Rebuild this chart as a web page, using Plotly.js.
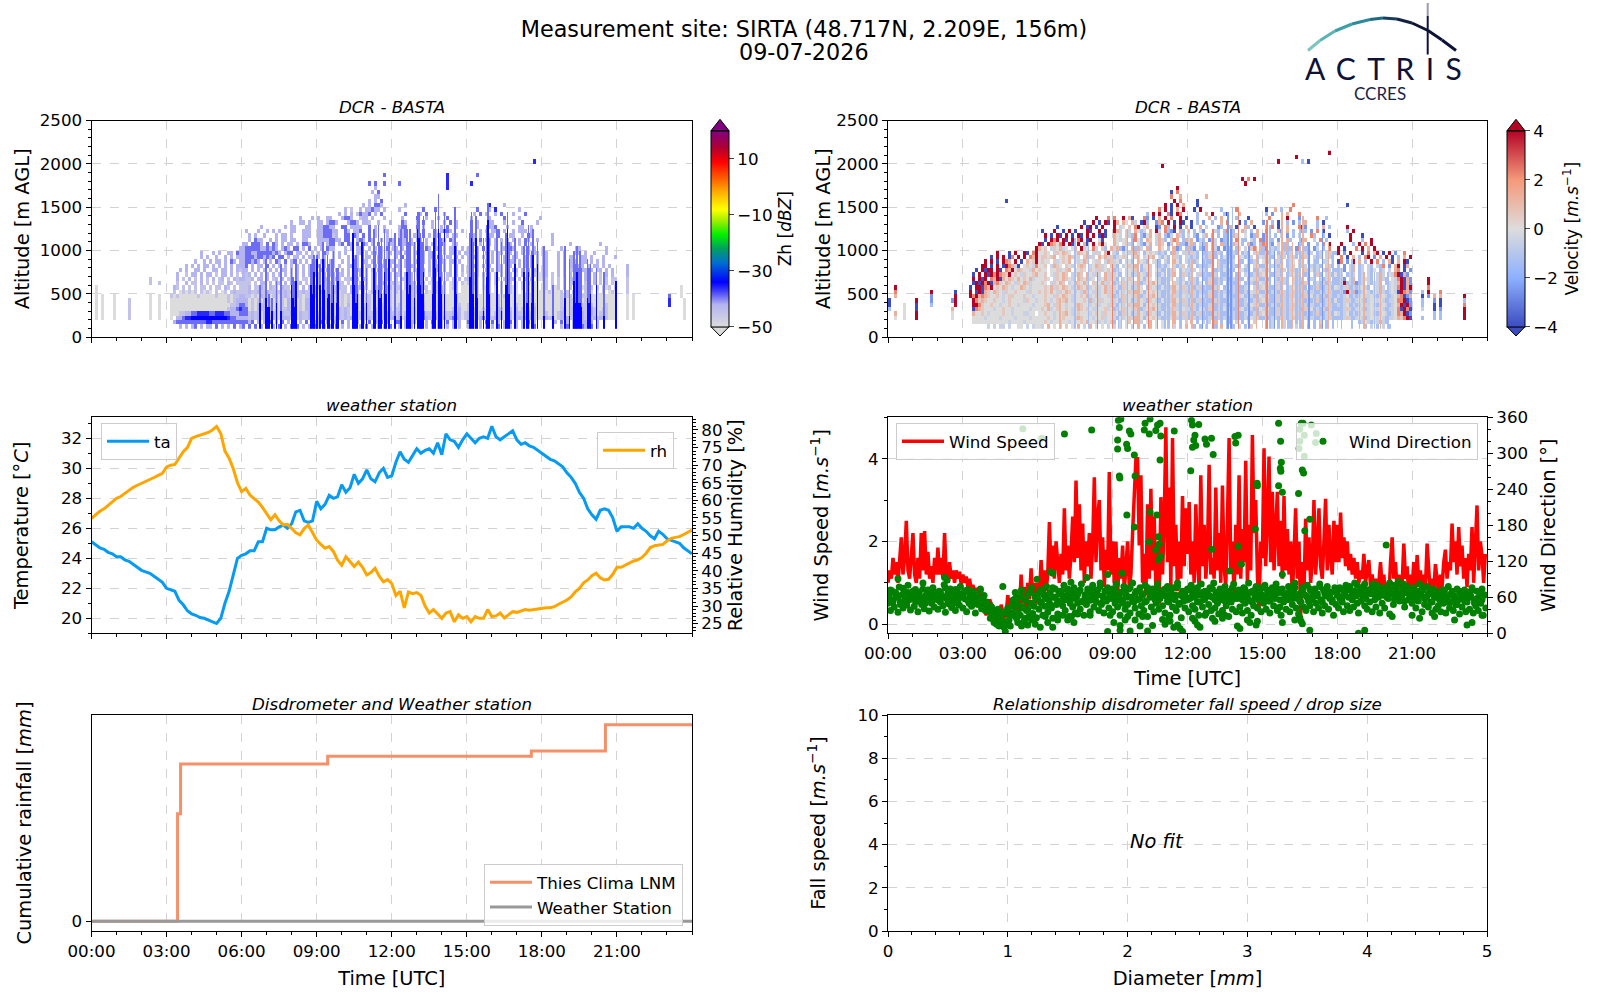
<!DOCTYPE html>
<html>
<head>
<meta charset="utf-8">
<title>SIRTA quicklook</title>
<script src="https://cdn.plot.ly/plotly-3.0.1.min.js"></script>
<style>
    body { margin: 0; background: white; }
    #chart { width: 1600px; height: 1000px; }
</style>
</head>
<body>
<div id="chart"></div>
<script>
// Radar background grids: one string per altitude row, 25 cells per 3 hours, "-" = empty 3 hour block
const rowAltitudes = [2125,2075,2025,1975,1925,1875,1825,1775,1725,1675,1625,1575,1525,1475,1425,1375,1325,1275,1225,1175,1125,1075,1025,975,925,875,825,775,725,675,625,575,525,475,425,375,325,275,225,175,125];
const zhLevels = { "1": -50, "2": -45, "3": -42, "4": -39, "5": -36, "6": -34 };
const zhRows = [
    "",
    "",
    "- - - - - ......................5",
    "",
    "",
    "- - - ......................4 ..................5 ...4",
    "- - - - ..................5",
    "- - - .................4.4..4 ..4...............5 .5",
    "- - - ...................3 ..................5",
    "- - - ..................3.4",
    "- - - ...................33",
    "- - - .................3.3.4",
    "- - - ...............3.3.443 ....3 .......5....3",
    "- - - .........3.2..3.33433.3 ..3.......4...4 ...4...3.5.......3",
    "- - - .......3.3.3.24334.3.4 ....4....3.4.....3...... ..3.4.3..3.4...3...4..",
    "- - ...................3...3 3..33...3443..233.3...3.. ...3....4..3...3..4...... .3.....3....4....3......3",
    "- - ................3..33.3 33.3443...3443.332..3...3 ...43...3.4..3...3.4.3... .4.3...33...3..3..4....3.",
    "- - ......3.......3.33...33 334433..44.3333..4.3..3.. ..344...4.3..3..3.4..3.. .4.3...334...3...33..3...",
    "- - .3...3..3.3.3...33..333 3344433..43.334..4.3..33. ..334...3.4...3.3443...3 .4..3.2.334.3..3.333.3...",
    "- - ..3.3..3...3.33.3...333 3344423..44.43.4.4.3...3. ..334..33.4.3.33..3.33.. .43.3..33.4...33..3.43... ...3",
    "- - ..3.433..3.3.33.33..33. 33334433.44..343.43..3.34 3.433.3.33.3..3.33.43.. .43.4.33.3.3.3.3.3.43..3 ...3",
    "- - 33.4443.4.43.3.33.3.443 33.344.34.43.4.43.3.4..33 3.433.33.3.3.33.43..33.. .43.3..3.3.3.33..3.4.3.. ...3.....3.........3",
    "- ........................3 344444334343.343.44.3.4.3 .3.433...3.3.33..3.3.3.4 33.3...3.3.43.33.3.33..3. 33.3.4...3.33.43..3.3.3.. 3.....3....33........3",
    "- ...........3...3.3..33.43 3443344444343.344.33.3.3. 3.43.3.3.3...33.3.33.3.33 .33.3..33.3.33...3.33.3.3 33.3..3.3.33.33.3.3.3.33. 33...3.3...33.3..3...3...",
    "- ...........3.3..3..3.3.33 34443443434.44.3.33.3.33. 3.3..3.3..3.33..33..33.3. .3.4.3.3..3.33.43.33.3.3. 3.33.3..3.3.33.33..3.3.3. 33...3.3.33..33.3...3...3",
    "- .........3..3.3.33.3.43.3 344343.3.3.43.4.34.3.3.33 .33.33..3.3..3.33.3.3.3.3 3.3.3..33.3.3.3.33.33.3.. 33.3..3.3.3.3.33.3.3.3.3. 33...3.3.333.33.3.3.3....",
    "- ......3.3.3.33.3.3.3.3.33 34.3.33.4.3.3.3.3.3.3.3.3 3.3.33.3..33.3..33.3.33.3 .33.3.33.3..3.33.3.3.3.3. 3.33.3.3..33.33..3.3.3.3. 33...3.3.33.33.3.33.3.3. ...3",
    "- ....3.3..33.3..33.33.3.32 33.3.3.3.3.3.33.3.3.3.3.3 .3.33.3.3.3..33.3.3.33.3. 3.3..3.33.3.3.33.3.3.3.3. 33.3..3.3.33.3.33.3.3.33. 33...3.3.233.33.3.23.3.3. ...3",
    "- ...3..2.33.3.33.2.33.3.2. 323.3.3.3.3.3.3.3.3.3.3.2 2.3.33.23.3.2.3.3.23.3.23 .32.3.3.3.3.2.3.3.23.3.2. 3.32.3.3.2.3.33.2.3.3.221 33.2.3.3.3.21.33.3.2.3.3. ...3",
    "...................2 ...3.2.3.2.3.2.3.23.2.323 3223.33.3.23.3.23.3.22.3. 2.33.232.223.2.33.22.3.23 .2.22.3.23.2.21.3.2.2.3.2 3.21.2.3.21.2.33.2.2.2.21 22.2.2.2.3321.33.3.2.2.22 ...2",
    "...................2..2 ...2..3.22.3.2.2.22.32.22 222.2.33.3.32.3.3.23.2.3. 2.3223.22.2.3.2.3.22.33.2 221.2.33.22.1122.3.123.21 2231.2.2.2.2.22.1.2.2.11. 12.2.2.2.2321.22.3.2.2.21 ...2",
    ".1 ..32.2.2.2.22.2.22.32.2.2 223.2232.322.322.32.3.323 2.23223222.322322.2322.33 122.22322322.12222.122.11 1221.212.1.2.2211.2.1.11. 12.212.2.2.311222.2.212.2. ...2.................1",
    ".1 ..2.121212.2121.2.12.2322 2232232232232232232232232 1222232122.322.2.1322.222 1211122222.2112232.112.11 1211.112.1.2.1211.1.1.111 1121112.2.211.221.1.2.121 ...2.................1",
    ".1.1...1...........1..1 .212111111211111211121223 3221213221231232132212213 1122321121211211221121212 1111112212211112211112111 1211111211212111111111111 1111112122111221111111111 ...1.1...........4...1",
    ".1.1...1....2......1..1 .111111111111111111121233 3312121322131213221213321 1122321121211211221121212 1111112212211112211112111 1211111211211211111111111 1111112112211121111111111 ...1.1...........5....1",
    ".1.1...1....2......1..1 .111111111111111111112234 4312132312131213221213321 1122321121311212221122212 1121112212311112311111211 2211111211211211211111211 1111112112211221211112111 ...1.1...........5....1",
    ".1.1...1....2......1..1 .111111111111111111123345 4412132312131223221213321 1222321223211213221222313 1221112312311112311121311 2221121311321321312121311 1111112212311221321122111 ...1.1................1",
    ".1.1...1....2......1..1 .111223344555544555443334 4423231322231322321322331 2232321223211223222323233 2231222312422222322232312 3321231312331331322232311 1211123212321322321222111 ...1.1................1",
    ".1.1...1....2......1..1 .1.3345566666666666654433 3323231333231333221322331 3233323223231223232323233 3231332312432332332343312 3321341323331331333333311 2322123232322322232332111 ...1.1................1",
    "- ..34444444444554444444444 4434.3.3.4.3.4.3.4.3.4.43 34.3.33.4.3.43.3.4.334.3. .44.3.33.3.3.4.33.4.3.3.. 4.3.3.4.4.3.3.4.3.3.4.3.. ....3.4.3.33.33.3.3......",
    "- ....3.3.34.3.33.4.3.3.4.3 4.4.4.3.3.3.4.3.4.4.3.3.4 3.3.3.4.3.3.3.3.4.3.3.3.4 ..3.3.3..4.3.3.33.3.3.3.. 3.3.3.3.3.4.3.3.3.3.3.4.. ......3.4.33.43.4.3......"
];

// Narrow reflectivity streaks: time, top of echo, top of the saturated part
const zhStreakHours = [6.74,6.94,7.03,7.1,7.2,7.38,7.54,8.0,8.05,8.1,8.18,8.74,8.8,8.85,9.0,9.1,9.25,9.3,9.41,9.5,9.6,9.67,9.75,9.85,10.45,10.5,10.54,10.6,10.77,10.85,10.87,10.95,11.25,11.3,11.35,11.43,11.5,11.6,11.67,11.75,11.9,12.1,12.34,12.58,12.65,12.7,12.74,12.9,13.0,13.05,13.1,13.15,13.2,13.27,13.6,13.67,13.73,13.75,13.83,13.9,14.0,14.07,14.12,14.5,14.54,14.6,15.1,15.17,15.25,15.34,15.4,15.67,15.78,15.83,15.9,16.2,16.4,16.55,16.63,16.7,16.94,17.25,17.4,17.47,17.55,17.65,17.83,18.07,18.4,18.87,19.07,19.27,19.3,19.35,19.38,19.45,19.5,19.55,19.8,19.85,19.94,20.17,20.47,20.94];
const zhStreakTops = [595,920,345,500,450,650,845,805,700,650,885,845,900,960,940,860,1100,900,940,850,900,1000,800,805,1210,900,960,800,1135,950,1040,800,1100,1270,1000,1290,1050,1150,1230,900,1080,1210,1230,1230,1100,1000,1230,1100,1445,1300,1425,1200,1100,1385,1000,1270,1500,1250,1655,1200,1150,1425,1100,1250,1480,1050,1200,1425,1100,1385,1050,1155,1300,1550,1150,1230,1080,1200,1445,1100,1170,1060,1050,1290,1000,1270,1115,1040,620,1060,920,980,850,900,1040,800,1000,820,900,800,840,790,730,650];
const zhStreakCores = [380,460,345,340,300,380,305,575,450,350,650,610,500,770,920,600,885,550,460,500,380,575,400,650,1190,600,380,500,1100,500,650,400,600,805,550,530,450,500,770,500,920,250,250,770,500,400,575,450,1230,700,1155,600,500,770,500,1155,1230,800,1270,700,500,1230,500,800,1040,500,700,1155,500,1155,450,300,700,1350,500,770,300,600,1270,500,840,770,400,770,400,960,840,250,250,460,250,650,400,550,770,400,420,350,460,380,490,620,250,650];

const velLevels = { a: -4, b: -2.5, c: -1.3, d: -0.5, e: 0, f: 0.6, g: 1.3, h: 2.3, i: 4 };
const velRows = [
    "- - - - - ......................i",
    "- - - - - ...........i",
    "- - - - - .....i.......c.a",
    "- - - ................i",
    "",
    "",
    "- - - - ..................i.h.i",
    "- - - - ...................i",
    "- - - .....................i",
    "- - - ...................a.h",
    "- - - ...................h..g ......g",
    "- ..............a - ....................i.h ...a",
    "- - - .................i.a.i.g ...a ..........h ...a",
    "- - - ...............h.i.a.g.i ..a.i......c....h .a..g.c..h",
    "- - - ...........c.i.i..ha.ih. ...c..g.i...ca...g .c.b....g...h",
    "- - ...................i...h h..i.ga...hb.a.g.i.h..i.a ...c...g.c.g....c...a.... ..h.....i...b.....h..c",
    "- - ...............a..i.a.ia ig.ge.gd.aic..bgh.i.a.ia. .a.c.b..c..g.h...a.b.g... b..c.a..c.b.c.g...c.a...",
    "- - ......a.......i.ai.a.i. i.de.f.hi.eg..ab.hc.i.a.g .a..g.d...bc..g.a..gc.a.. .g.h.a..g...hab...c.g.c. ...i",
    "- - .a...i..a.i.a...ia..i.a igd.fd.gecd.g.id.hcba.gc. g.c.db...dc.ch.c..gd.c.g. .h...gb.g.c..hc.b.h.a... ...c.i",
    "- - ..i.a.ia.i.a.ia.i.i.aia ged.fdch.cbeg.dg.cbd.gdc. d.cb.dg.g.c.cc.gd..e.bcg. bg..c.d.b.c.d...hc..c.a.. ....i...a",
    "- - ..a.ihi.ia.i.hi.ai..ea. gedef.chec.gf.dgfc.dhg.cg dg.bdc.bgd.bcc..h.cc.dc.h bg.c.b..gc...bg..d.h.c.. ....i...c..i",
    "- - ia.ihgehi.ia.i.ga.i.gie ge.efdc.ecbeg.dgf.bd.gccb dgc.dcg.gd.gcb.gd.c.gbc.c hg.b.f.cg...bg.b..c.h.i. .i...c.i.h.i",
    "- ........................i gef.dfegde.eg.ide.hd.fc.g dgcbd.gcgd.gc..ge.c.gbc.c gcb.cbg.gdb.bdg.ce.d.fh.g cb.dcd.cgc.bh.cg.bd.c.h. i.a...h.i.g.i..",
    "- ...........i...a.i..ia.hi eefe.dfegfe.egfeg.dfd.gi. dc.dedfgd.cefedcdc.cgd.df cfdc.ccdfcfc.dcdc.cdc.dfc cfcd.cfdcd.cdfdcd.cd.dfdc i.b.i...a.h.gi.a.i.b..h..",
    "- .........a.i.i.ah.i.i.hgi effefg.efegfed.fgfd.gegdf cdefd.dfd.dedg.dcec.fdc.d dcdc.dcfdc.cecdc.decfd.ce dcec.fcd.fdc.cfd.dcf.ddc .h.a.g.c.hi.b.g.i.a.c.g.i",
    "- .......i.i.a.ihg.i.a.gefi efee.fdefeg.edegf.edf.dgf dec.dec.fedc.edc.dc.gec.d cdcd.cdcc.fcc.ed.cc.ecdc. ecd.fdc.cde.fd.d.fc.dd.e ah.b.i.g.c.i.h.c.ga.g.ia.",
    "- ......ii.a.i.aihgda.efedh eef.dgfe.fed.fgf.degfde.f dc.defdg.ceef.dcdce.dcdf cf.cdccdf.fcdd.dcc.dc.dfc cf.ddcf.cdf.dfd.dcdc.fdc c.b.dg.cd.dc.dch.b.gi.ag.",
    "- ....a.iaii.ia.hgiegfeedge fee.eefdefg.eefe.fedfdefe cde.dedf.cded.edc.cdf.ced dcd.edc.dcdce.dc.decf.cce dce.dfcd.fdcd.fdecd.fcd.c cdb.dg.cd.dce.cd.d.gh.a.b",
    "- ...a.i.iaihihgfiefedfeefg eef.edfegf.degf.gedfd.gdf dec.decd.edcf.dce.cdg.cfd cd.dfcdccd.ccde.cc.decdcf ec.cfdc.cdecf.cd.dfc.ddce cd.cdf.cd.dc.dcd.edhiagb",
    "- ...i.iai.hgiagegfegefegde eefe.dfegfed.gfegde.degdf dc.defd.decee.edcdce.dcd. cfdc.ccdfcfcd.cdccc.cedfc cfc.dcfdc.fcdf.cdd.dcdf.c cdb.dg.cdedc.dcdc.edhiagb .....i",
    "- ...aiaihiaghfegfedfegfdee efe.dfegf.degfegd.fdegdfe cdefdedf.cdedgedcec.fdcec dcdce.cfdcdc.cdccd.cfdcce dce.dfcdc.dcdcfd.cdcfcddc cdicdgbcd.dcedc.cdedgiagb .....i",
    "..i ..a.iiahgiefegfedeegfedee eefegdfegfedegfegdefdegdf decfdecdfe.cfedcedcdgecfd cdcdfcdccdf.cdedcccde.dcf ecdcfdc.cdecfdc.cdfccddce dcdfcdcdedc.edcd.dedhiagi .....h",
    "..h...........i.......a ..i.aiagfegfedfeefeeedfee fefegedfegfededgfedfdegdf dcedefdgdeceefedcdcegdcdf cfdcdccdfcfcddcdcccdcedfc cfcddcfdcdfcdfdcddcdcdfdc cdbidgbcdedcedcdcdedaihgb ...c.i...h",
    "..g...........b.......i ..ihighgfeefedeffeeefeede eefeedfegfedeefegdefdeedf cdefdedfdcdedgedcecdfdced dcdcedcfdcdcecdccdecfdcce dcecdfcdcfdcdcfdecdcfcddc dcdecdcdeddedcdedcdeghabg ...a.b.g.g.......i",
    "a........i....b......bi ...ihfgfeefeedefeeeedfeed eefedefefgedeeefegdefdeed decfdecdfedcfedcedcdgecfd cdcdfcdccdfccdedcccdecdcf ecdcfdcdcdecfdcdcdfccddce ccdfdcdedcdeededcddehhiab ...c...b.a.......c",
    "a....e...a....c.......i ...iihfeefeedeefeedeeeede eefgedfeedeefgfeedefdeedf dcedefdgdeceefedcdcegdcdf cfdcdccdfcfcddcdcccdcedfc cfcddcfdcdfcdfdcddcdcdfdc dcdecdcdeddedcdedcdegiaib ...c...a.a.......h",
    "c....e...a...........g ...ahgfeeedeefeedeeeeedee efegdefeefedegfefeddeefde cdefdedfdcdedgedcecdfdced dcdcedcfdcdcecdccdecfdcce dcecdfcdcfdcdcfdecdcfcddc ccdfdcdedcdeededcddehaiha ...d...a.b.......i",
    "..g..e...i...........e ...geefedeeeefeedeeeddee eefeedeefgedefeeedefedfee decfdecdfedcfedcedcdgecfd cdcdfcdccdfccdedcccdecdcf ecdcfdcdcdecfdcdcdfccddce dcdecdcdeddedcdedcdehgiab .......c.c.......i",
    "..e..e...i...........e ...eeeedeeeedeeeedeeeedee eeefedeefeeefgfeeedeefdee dcedefdgdeceefedcdcegdcdf cfdcdccdfcfcddcdcccdcedfc cfcddcfdcdfcdfdcddcdcdfdc ccdfdcdedcdeededcddegfhia ...c...c.c.......i",
    "- ...eeeeeeeeeeeedeeeedeeee eefedeefeedeeefegeefdedef c.d.ef.g.d.eg.e.e.c.g.c.f .g.c.d.d.g.c.dc.d.c.e.f.. .g.d.c.d.c.c.g.d.c.f.c.. .......cdedcedcdc........",
    "- ........d.d.dd.d..ee.d.de ed.g.e.f.f.e.g.d.g.e.e.d. d.d.e.d.d.c.g.e.e.c.d.c.g ..c.c.d..c.g.d.c.d.c.f.. .g.d.c.d.c.d.g.c.c.g.c.. .........c.d.c.d.c......."
];

// Velocity streaks: time, top of echo, velocity
const velStreakHours = [6.88,9.0,9.61,9.81,10.41,10.81,11.41,12.15,13.01,13.21,9.35,10.01,7.48,8.01,8.41,9.21,10.08,11.08,11.75,12.61,12.75,13.75,13.55,13.61,14.01,14.75,15.15,15.75,16.21,16.61,17.61,17.28,19.08,19.75,13.61,13.78,14.48,15.28,15.48,16.01,16.48,16.88,17.08,17.41,17.81,18.15,18.61,18.88,19.48,20.01];
const velStreakTops = [460,845,1230,1155,960,920,1155,920,1230,960,770,960,1155,1077,770,845,770,800,800,1077,960,1230,1077,1425,1500,1040,1350,1445,1115,1385,1077,850,770,730,1425,1500,1040,1310,1000,1077,1270,1077,920,1230,1000,800,920,730,730,730];
const velStreakValues = [1.3,2.3,1.8,2.3,2.3,2.3,1.3,1.3,2.3,1.3,1.3,1.3,-1.3,-1.3,-2.5,-1.3,-1.3,-1.3,-1.3,-2.5,-1.3,-2.5,-1.3,1.8,2.3,1.3,2.3,1.3,1.3,1.3,1.3,1.3,1.3,1.3,-2.5,-1.3,-2.5,-1.3,-2.5,-1.3,-1.3,-2.5,-1.3,-2.5,-1.3,-1.3,-1.3,-1.3,-1.3,-1.3];

// Weather station, ten minute readings
const temperature = [
    25.1,24.9,24.7,24.6,24.4,24.3, 24.1,24.1,23.9,23.8,23.6,23.4, 23.2,23.1,23.0,22.8,22.6,22.4,
    22.0,21.9,21.8,21.2,20.9,20.5, 20.3,20.2,20.05,20.0,19.9,19.8, 19.65,20.0,21.0,21.8,23.0,24.0,
    24.2,24.3,24.5,24.5,25.1,25.1, 26.0,25.9,25.9,26.1,26.2,26.0, 26.3,27.1,27.2,26.5,26.4,26.5,
    27.8,27.3,27.6,28.2,28.0,28.1, 28.9,28.4,28.7,29.6,29.0,29.3, 29.9,29.3,29.1,29.7,30.0,29.4,
    29.5,30.4,31.1,30.6,30.4,30.9, 31.3,31.0,31.2,31.3,31.0,31.7, 30.9,32.3,31.9,31.8,31.4,31.9,
    32.3,32.0,31.7,32.0,32.1,32.0, 32.8,32.1,31.9,32.1,32.3,32.5, 31.9,31.6,31.7,31.5,31.4,31.2,
    31.0,30.8,30.6,30.5,30.3,30.1, 29.7,29.4,29.0,28.4,28.0,27.3, 26.9,26.6,27.2,27.3,27.2,26.7,
    25.8,26.1,26.1,26.1,26.0,26.3, 26.0,25.8,25.5,25.3,25.8,25.6, 25.3,25.2,25.1,25.0,24.7,24.5, 24.3
];
const humidity = [
    54.9,55.9,56.9,57.6,58.5,59.6, 60.6,61.1,62.0,62.9,63.7,64.3, 64.8,65.4,65.8,66.5,67.1,67.7,
    69.5,70.0,70.2,72.0,73.8,75.0, 77.6,78.1,78.5,78.9,79.3,80.0, 81.0,79.0,74.0,72.0,69.0,65.0,
    62.5,63.4,61.5,60.5,59.5,58.0, 56.3,54.5,55.9,54.2,53.0,53.2, 52.0,50.8,50.2,52.0,53.0,51.0,
    48.7,47.5,46.4,46.9,45.5,43.0, 41.6,44.0,42.5,41.2,42.5,41.0, 38.8,39.5,40.7,38.5,36.9,37.5,
    36.4,33.0,34.2,29.5,34.0,33.5, 33.8,33.0,30.0,28.0,29.0,27.8, 26.5,28.0,28.4,25.5,27.5,26.5,
    27.0,25.5,27.0,26.5,26.5,29.0, 27.0,27.2,28.0,26.6,27.5,28.4, 28.2,28.5,29.0,28.8,29.0,29.2,
    29.3,29.5,29.5,29.8,30.5,31.0, 31.7,32.6,34.0,35.0,36.6,37.4, 38.6,39.3,38.0,37.4,37.6,39.0,
    41.0,41.0,41.6,42.0,42.8,43.1, 43.8,45.0,46.6,47.1,47.3,47.5, 48.5,49.2,49.5,49.7,50.3,51.0, 51.6
];

// Wind speed, four minute readings
const windSpeed = [
    1.0,1.3,1.1,1.6,1.2,1.5,1.0,1.7,2.1,1.2,1.6,2.5,1.3,1.1,1.8,
    2.2,1.2,1.0,1.6,1.1,2.2,1.3,2.25,1.2,1.75,1.1,1.4,1.0,1.6,1.2,
    1.85,1.2,1.6,1.1,2.2,1.2,1.0,1.5,1.1,1.3,1.0,1.3,1.1,1.27,0.95,
    1.2,1.0,1.15,0.9,1.1,0.85,0.95,0.8,0.87,0.7,0.75,0.55,0.45,0.3,0.22,
    0.3,0.6,0.5,0.3,0.15,0.06,0.1,0.2,0.47,0.3,0.15,0.25,0.7,0.4,0.2,
    0.3,0.15,0.5,0.2,0.3,1.2,0.5,0.9,0.4,1.0,0.6,1.35,0.7,1.0,0.5,
    1.0,0.7,1.55,0.9,1.3,0.8,1.2,2.47,1.3,1.9,1.1,2.0,1.4,1.0,1.7,
    1.2,2.8,1.3,1.9,1.1,1.7,2.6,1.5,3.47,1.6,2.9,1.3,2.43,1.0,2.0,
    1.4,2.2,1.1,1.9,3.55,1.5,2.6,3.0,1.3,2.1,0.9,1.8,1.3,3.68,1.2,
    2.0,1.0,2.0,0.7,1.6,1.1,1.9,0.8,1.4,2.0,0.9,1.2,2.2,3.0,4.0,
    4.0,1.9,3.6,1.0,1.7,0.7,2.9,1.1,3.27,1.3,2.6,0.8,1.9,0.5,3.07,
    1.2,2.5,4.76,1.5,3.3,0.9,4.5,1.4,2.4,0.8,2.0,1.1,3.1,1.4,2.8,
    1.7,2.95,1.2,2.0,1.0,2.9,1.5,0.9,3.6,1.4,2.4,1.1,1.8,3.85,1.2,
    1.6,1.1,3.3,1.3,2.2,1.0,3.35,1.4,0.9,2.5,4.5,1.3,2.0,0.6,2.4,
    1.2,3.6,1.1,2.3,1.5,3.95,1.0,2.4,1.3,4.57,2.2,3.0,1.2,0.3,2.0,
    1.6,4.25,1.4,2.6,4.05,1.5,3.2,1.3,2.2,3.2,1.4,2.5,1.1,3.1,1.3,
    2.3,1.2,2.0,0.6,1.8,2.8,1.1,2.0,0.2,1.5,0.7,2.55,1.3,2.1,1.0,
    1.5,3.0,1.2,1.9,2.8,1.4,1.1,2.0,3.03,1.3,2.4,1.6,1.2,2.5,1.5,
    2.4,1.5,2.7,1.6,2.1,1.4,2.0,1.3,1.7,1.2,1.6,1.1,1.5,1.0,1.3,
    1.1,1.7,1.0,1.3,1.55,0.9,1.2,0.8,1.1,0.7,1.0,1.5,0.9,1.2,0.6,
    1.0,0.6,1.5,2.1,1.1,1.5,0.8,1.2,0.7,1.0,1.95,1.1,1.4,0.6,1.2,
    0.9,1.5,0.8,1.67,1.0,1.3,0.7,1.2,0.9,1.95,1.2,0.7,1.1,0.8,1.45,
    1.0,0.7,1.2,0.9,1.5,1.8,1.1,1.5,1.3,2.43,1.5,2.0,1.2,2.35,1.4,
    1.9,1.1,1.6,0.9,1.7,1.3,2.35,1.0,1.8,2.87,1.3,2.0,1.67,1.0,1.7
];

// Wind direction: three minute readings, a second pass of the dense band, and the dots away from it
const windDirection = [
    50,62,38,71,55,44,68,60,35,77,52,64,42,70,58,47,80,56,39,66,
    61,45,73,53,36,69,58,48,84,41,63,55,72,37,60,50,76,44,66,57,
    40,70,52,63,46,81,35,59,67,49,74,43,56,65,38,71,54,47,78,60,
    42,68,57,36,73,50,62,45,70,55,34,66,48,59,72,41,53,63,38,52,
    46,36,25,44,30,18,38,15,28,12,14,35,20,10,33,17,40,22,12,30,
    55,35,68,25,48,60,30,72,42,20,56,38,65,28,50,76,33,45,62,26,
    58,40,72,50,30,64,45,78,35,55,68,42,25,60,74,48,32,66,52,70,
    46,80,38,62,72,28,55,66,44,76,34,58,50,70,40,82,52,30,64,48,
    74,56,36,66,80,44,60,52,72,38,84,48,62,34,70,54,76,42,66,58,
    36,72,50,82,44,62,30,68,56,78,40,64,48,74,34,60,84,52,42,70,
    56,32,76,46,66,38,80,54,28,70,60,44,74,36,64,50,82,40,58,68,
    46,72,34,62,78,52,30,66,44,76,56,38,84,48,64,26,70,54,42,60,
    74,36,58,80,46,66,40,72,52,30,64,82,44,56,70,34,62,48,76,38,
    60,84,42,68,50,32,74,56,38,66,78,46,60,28,70,52,40,82,64,36,
    58,72,44,62,34,76,50,66,38,84,54,30,70,46,60,78,42,56,68,36,
    64,50,80,40,72,54,34,62,76,46,58,82,38,68,44,30,74,52,66,40,
    56,78,36,62,48,70,84,42,58,32,66,52,76,44,64,38,80,54,46,70,
    60,36,74,50,66,42,82,56,34,72,46,62,78,40,58,68,52,30,76,48,
    66,42,58,74,52,36,68,80,46,60,38,72,56,44,84,62,50,34,70,54,
    64,78,46,58,40,72,52,66,36,82,56,44,70,60,34,76,50,64,42,68,
    72,58,84,66,76,48,80,60,70,86,54,74,64,82,44,68,78,56,72,62,
    50,76,60,42,70,54,82,64,36,72,48,58,78,44,66,52,34,74,60,40,
    68,46,56,36,72,50,64,34,60,78,42,52,70,38,62,48,74,56,32,66,
    44,58,72,36,52,68,40,62,76,34,54,46,70,38,60,50,74,30,64,42
];
const windDirectionDense = [
    58,72,52,66,61,48,75,55,68,63, 70,54,64,59,74,50,67,57,71,62,
    56,69,60,76,53,65,49,73,58,66, 62,71,55,68,50,64,59,74,57,45,
    38,46,32,28,40,24,35,18,42,30, 46,58,36,62,44,55,40,68,50,60,
    66,52,72,58,64,48,76,60,54,70, 62,56,74,50,68,59,65,72,54,61,
    68,55,72,60,64,78,52,70,58,66, 74,62,56,68,50,72,60,76,54,66,
    70,58,64,52,76,62,68,56,72,60, 66,74,54,70,58,64,78,50,62,68,
    56,72,64,60,76,52,68,58,70,62, 74,56,66,60,72,54,68,62,76,58,
    64,70,56,74,60,68,52,72,62,66, 76,58,64,54,70,62,74,56,68,60,
    66,72,58,76,62,54,70,64,60,74, 56,68,62,78,52,66,72,60,56,70,
    64,76,60,68,72,78,64,70,80,66, 74,82,68,72,76,66,80,70,64,76,
    60,72,66,56,74,62,70,54,68,60, 64,72,56,66,74,58,62,68,52,70,
    60,66,56,72,52,64,68,58,48,70, 62,54,66,60,72,50,58,68,56,64
];
const extraHours = [
    5.4,6.16,7.07,8.16,9.23,9.33,9.27,9.2,9.2,9.56,9.6,9.67,9.73,9.87,9.27,9.29,9.9,9.57,9.87,10.3,10.5,10.27,10.47,10.73,10.8,10.9,10.93,10.9,11.47,10.5,10.77,10.83,10.47,10.87,10.73,10.93,10.83,
    12.16,12.45,12.2,12.3,12.25,12.2,12.33,12.7,12.76,12.96,13.03,12.13,13.9,14.03,13.93,15.65,15.73,15.76,15.72,15.74,14.79,14.8,15.65,15.8,16.56,16.63,16.96,17.13,16.6,16.65,16.45,16.9,16.7,14.72,12.97,14.03,19.96,14.16,15.8,13.69,16.5,16.68,17.16,16.5,16.47,16.68,
    0.4,2.27,2.37,4.6,6.5,6.6,5.97,7.97,8.8,9.37,7.33,
    4.7,4.75,5.2,5.35,5.5,5.6,5.75,5.9,6.1,6.3,6.4,6.6,6.8,7.0,7.2,7.35,7.45,7.6,8.1,8.9,8.8,9.05,9.3,9.3,9.5,9.6,9.7,9.9,10.1,10.2,10.4,10.6,11.0,11.1,11.25,11.3,11.45,11.6,11.7,11.8,
    12.2,12.3,12.5,12.4,12.7,13.0,13.1,13.4,13.5,14.0,14.1,14.4,14.5,14.75,14.8,15.8,16.3,16.5,16.55,16.6,16.9,18.85,19.1,20.1,20.2,21.0,21.3,21.9,22.7,23.2,23.4,23.8
];
const extraDirections = [
    341,325,332,339,355,357,343,322,307,315,308,337,332,297,262,259,262,197,177,350,357,339,332,338,347,350,329,289,337,202,197,161,152,149,139,128,122,
    355,348,347,330,322,310,313,324,315,325,298,271,328,330,317,350,320,285,275,270,250,246,246,235,350,350,347,318,272,267,233,190,171,174,140,145,147,115,98,104,340,330,333,320,308,295,
    91,93,89,78,102,100,90,93,98,100,85,
    3,15,18,12,25,14,22,15,10,28,18,10,22,30,22,28,18,32,30,30,3,18,13,5,22,28,4,22,12,28,4,13,23,15,25,20,10,14,8,3,
    25,20,10,14,30,25,20,25,30,12,8,22,18,14,20,18,22,26,20,16,5,0,5,32,28,30,25,28,22,14,18,30
];

// Cumulative rainfall
const rainHours = [0, 3.44, 3.56, 9.44, 17.58, 20.54, 24];
const thiesRain = [0, 0.082, 0.12, 0.126, 0.13, 0.15, 0.15];
const stationRain = [0, 0, 0, 0, 0, 0, 0];

const hourTicks = [0, 3, 6, 9, 12, 15, 18, 21];
const hourLabels = ["00:00", "03:00", "06:00", "09:00", "12:00", "15:00", "18:00", "21:00"];

// Logo outline, in page pixels
const logoArc = [[1308,50.5],[1320,40.5],[1335,31],[1352,24],[1370,19.5],[1383,18],[1397,19],[1412,23],[1428,30.5],[1442,40],[1456,50.5]];
const logoColors = ["#7cc5c0","#5cb3b5","#3f9fa8","#2b8a9b","#1f6a80","#183f5e","#14213f","#0f1238","#0f1238","#0f1238"];

const BLACK = "#000000";
const GRID = "#d3d3d3";
const FONT = "DejaVu Sans";
const TICK_SIZE = 16.7;
const LABEL_SIZE = 19.4;

function px(x) { return x / 1600; }
function py(y) { return 1 - y / 1000; }

function parseGrid(rows, levels) {
    const empty = ".".repeat(25);
    return rows.map(row => {
        const blocks = row.trim().split(/\s+/).filter(b => b.length);
        let cells = "";
        for (let i = 0; i < 8; i++) {
            const block = blocks[i] && blocks[i] !== "-" ? blocks[i] : empty;
            cells += block.padEnd(25, ".").slice(0, 25);
        }
        return cells.split("").map(c => (c in levels ? levels[c] : null));
    });
}

// Narrow columns at 0.06 h: each streak fills its column from the ground to its top
function streakGrid(hours, tops, cores, coreValues, paleValue) {
    const grid = rowAltitudes.map(() => new Array(400).fill(null));
    hours.forEach((hour, i) => {
        const col = Math.round(hour / 0.06);
        rowAltitudes.forEach((alt, row) => {
            if (alt <= cores[i]) {
                grid[row][col] = Array.isArray(coreValues) ? coreValues[i] : coreValues;
            } else if (alt <= tops[i]) {
                grid[row][col] = paleValue;
            }
        });
    });
    return grid;
}

function stepHours(count, step) {
    return Array.from({ length: count }, (_, i) => i * step);
}

function hourAxis(domainLeft, domainRight, anchor, showLabels, titleText, standoff) {
    const axis = {
        domain: [px(domainLeft), px(domainRight)],
        anchor: anchor,
        range: [0, 24],
        tickmode: "array",
        tickvals: hourTicks,
        ticktext: hourLabels,
        showticklabels: showLabels,
        ticks: "outside",
        ticklen: 5,
        tickcolor: BLACK,
        tickfont: { family: FONT, size: TICK_SIZE, color: BLACK },
        minor: { ticks: "outside", ticklen: 3, tickcolor: BLACK, tickmode: "linear", tick0: 0, dtick: 1, showgrid: false },
        showline: true,
        linecolor: BLACK,
        linewidth: 1,
        mirror: true,
        showgrid: true,
        gridcolor: GRID,
        griddash: "dash",
        zeroline: false
    };
    if (titleText) {
        axis.title = { text: titleText, standoff: standoff, font: { family: FONT, size: LABEL_SIZE, color: BLACK } };
    }
    return axis;
}

function valueAxis(domainTop, domainBottom, anchor, opts) {
    const axis = {
        domain: [py(domainBottom), py(domainTop)],
        anchor: anchor,
        range: opts.range,
        tick0: opts.tick0 || 0,
        dtick: opts.dtick,
        ticks: "outside",
        ticklen: 5,
        tickcolor: BLACK,
        tickfont: { family: FONT, size: TICK_SIZE, color: BLACK },
        minor: { ticks: "outside", ticklen: 3, tickcolor: BLACK, dtick: opts.minor, tick0: 0, showgrid: false },
        showline: true,
        linecolor: BLACK,
        linewidth: 1,
        mirror: true,
        showgrid: opts.grid !== false,
        gridcolor: GRID,
        griddash: "dash",
        zeroline: false,
        title: { text: opts.title, standoff: opts.standoff, font: { family: FONT, size: LABEL_SIZE, color: BLACK } }
    };
    if (opts.tickvals) {
        axis.tickmode = "array";
        axis.tickvals = opts.tickvals;
        delete axis.dtick;
        delete axis.minor;
    }
    if (opts.overlaying) {
        axis.overlaying = opts.overlaying;
        axis.side = "right";
        axis.showgrid = false;
        axis.mirror = false;
    }
    return axis;
}

function legendBox(left, top) {
    return {
        x: px(left),
        y: py(top),
        xanchor: "left",
        yanchor: "top",
        itemwidth: 42,
        bgcolor: "rgba(255,255,255,0.8)",
        bordercolor: "#cccccc",
        borderwidth: 1,
        font: { family: FONT, size: TICK_SIZE, color: BLACK }
    };
}

function pageText(text, centre, y, font) {
    return {
        text: text,
        xref: "paper", yref: "paper",
        x: px(centre), y: py(y),
        xanchor: "center", yanchor: "middle",
        showarrow: false,
        font: font
    };
}

function subTitle(text, centre, y) {
    return pageText("<i>" + text + "</i>", centre, y, { family: FONT, size: TICK_SIZE, color: BLACK });
}

function pagePath(points) {
    return points.map((p, i) => (i ? "L" : "M") + px(p[0]) + "," + py(p[1])).join(" ");
}

function extendArrow(left, right, baseY, tipY, color) {
    return {
        type: "path",
        xref: "paper", yref: "paper",
        path: pagePath([[left, baseY], [(left + right) / 2, tipY], [right, baseY]]) + " Z",
        fillcolor: color,
        line: { color: BLACK, width: 1 }
    };
}

function logoShapes() {
    const shapes = [];
    for (let i = 0; i < logoColors.length; i++) {
        shapes.push({
            type: "path", xref: "paper", yref: "paper",
            path: pagePath([logoArc[i], logoArc[i + 1]]),
            line: { color: logoColors[i], width: 3 }
        });
    }
    shapes.push({ type: "path", xref: "paper", yref: "paper", path: pagePath([[1427.7, 3], [1427.7, 16]]), line: { color: "#9a9ab0", width: 2 } });
    shapes.push({ type: "path", xref: "paper", yref: "paper", path: pagePath([[1427.7, 16], [1427.7, 54.5]]), line: { color: "#0f1238", width: 2 } });
    return shapes;
}

function drawDashboard() {
    const gridHours = stepHours(200, 0.12).map(h => h + 0.06);
    const fineHours = stepHours(400, 0.06);
    const tenMinutes = stepHours(temperature.length, 1 / 6);
    const fourMinutes = stepHours(windSpeed.length, 1 / 15);
    const threeMinutes = stepHours(windDirection.length, 1 / 20);
    const sixMinutes = stepHours(windDirectionDense.length, 1 / 10);

    const zhColors = [
        [0, "#dcdcdc"], [0.114, "#b4b4f0"], [0.186, "#3c3cf8"], [0.229, "#0000ff"], [0.329, "#0070d0"],
        [0.4, "#00a060"], [0.471, "#00f000"], [0.543, "#a0f000"], [0.6, "#ffff00"], [0.686, "#ffb000"],
        [0.77, "#ff5000"], [0.843, "#ff0000"], [0.914, "#b00030"], [1, "#800080"]
    ];
    const velColors = [[0, "#3b4cc0"], [0.25, "#8db0fe"], [0.5, "#dddcdc"], [0.75, "#f49a7b"], [1, "#b40426"]];

    const traces = [
        {
            type: "heatmap", x: gridHours, y: rowAltitudes, z: parseGrid(zhRows, zhLevels),
            xaxis: "x", yaxis: "y", zmin: -50, zmax: 20, colorscale: zhColors, hoverinfo: "skip",
            colorbar: {
                x: px(711), xanchor: "left", xpad: 0, y: py(326.7), yanchor: "bottom", ypad: 0,
                len: 0.196, thickness: 18, outlinecolor: BLACK, outlinewidth: 1,
                tickmode: "array", tickvals: [-50, -30, -10, 10], ticks: "outside", ticklen: 5,
                tickfont: { family: FONT, size: TICK_SIZE, color: BLACK },
                title: { text: "Zh [<i>dBZ</i>]", side: "right", font: { family: FONT, size: 17, color: BLACK } }
            }
        },
        {
            type: "heatmap", x: fineHours, y: rowAltitudes,
            z: streakGrid(zhStreakHours, zhStreakTops, zhStreakCores, -34, -39),
            xaxis: "x", yaxis: "y", zmin: -50, zmax: 20, colorscale: zhColors, showscale: false, hoverinfo: "skip"
        },
        {
            type: "heatmap", x: gridHours, y: rowAltitudes, z: parseGrid(velRows, velLevels),
            xaxis: "x2", yaxis: "y2", zmin: -4, zmax: 4, colorscale: velColors, hoverinfo: "skip",
            colorbar: {
                x: px(1507), xanchor: "left", xpad: 0, y: py(326.7), yanchor: "bottom", ypad: 0,
                len: 0.196, thickness: 18, outlinecolor: BLACK, outlinewidth: 1,
                tickmode: "array", tickvals: [-4, -2, 0, 2, 4], ticks: "outside", ticklen: 5,
                tickfont: { family: FONT, size: TICK_SIZE, color: BLACK },
                title: { text: "Velocity [<i>m.s</i><sup>−1</sup>]", side: "right", font: { family: FONT, size: 17, color: BLACK } }
            }
        },
        {
            type: "heatmap", x: fineHours, y: rowAltitudes,
            z: streakGrid(velStreakHours, velStreakTops, velStreakTops, velStreakValues, null),
            xaxis: "x2", yaxis: "y2", zmin: -4, zmax: 4, colorscale: velColors, showscale: false, hoverinfo: "skip"
        },
        {
            type: "scatter", mode: "lines", name: "ta", x: tenMinutes, y: temperature, xaxis: "x3", yaxis: "y3",
            line: { color: "#069af3", width: 3 }, legend: "legend", hoverinfo: "skip"
        },
        {
            type: "scatter", mode: "lines", name: "rh", x: tenMinutes, y: humidity, xaxis: "x3", yaxis: "y7",
            line: { color: "#ffa500", width: 3 }, legend: "legend2", hoverinfo: "skip"
        },
        {
            type: "scatter", mode: "lines", name: "Wind Speed", x: fourMinutes, y: windSpeed, xaxis: "x4", yaxis: "y4",
            line: { color: "#ff0000", width: 3.5 }, legend: "legend3", hoverinfo: "skip"
        },
        {
            type: "scatter", mode: "markers", name: "Wind Direction",
            x: threeMinutes.concat(sixMinutes, extraHours),
            y: windDirection.concat(windDirectionDense, extraDirections),
            xaxis: "x4", yaxis: "y8",
            marker: { color: "#008000", size: 7 }, legend: "legend4", hoverinfo: "skip"
        },
        {
            type: "scatter", mode: "lines", name: "Thies Clima LNM", x: rainHours, y: thiesRain, xaxis: "x5", yaxis: "y5",
            line: { color: "#f4906a", width: 3, shape: "hv" }, legend: "legend5", hoverinfo: "skip"
        },
        {
            type: "scatter", mode: "lines", name: "Weather Station", x: rainHours, y: stationRain, xaxis: "x5", yaxis: "y5",
            line: { color: "#999999", width: 3 }, legend: "legend5", hoverinfo: "skip"
        },
        { type: "scatter", mode: "markers", x: [], y: [], xaxis: "x6", yaxis: "y6", showlegend: false }
    ];

    const layout = {
        width: 1600,
        height: 1000,
        margin: { l: 0, r: 0, t: 0, b: 0 },
        paper_bgcolor: "white",
        plot_bgcolor: "white",
        font: { family: FONT, color: BLACK },
        showlegend: true,
        title: {
            text: "Measurement site: SIRTA (48.717N, 2.209E, 156m)",
            x: px(804), xanchor: "center", y: py(28.7), yanchor: "middle",
            font: { family: FONT, size: 22.3, color: BLACK }
        },
        xaxis: hourAxis(91.5, 692, "y", false),
        yaxis: valueAxis(120.5, 337, "x", { range: [0, 2500], dtick: 500, minor: 100, title: "Altitude [m AGL]", standoff: 4 }),
        xaxis2: hourAxis(888, 1487, "y2", false),
        yaxis2: valueAxis(120.5, 337, "x2", { range: [0, 2500], dtick: 500, minor: 100, title: "Altitude [m AGL]", standoff: 0 }),
        xaxis3: hourAxis(91.5, 692, "y3", false),
        yaxis3: valueAxis(417.3, 633.3, "x3", { range: [19, 33.4], dtick: 2, tick0: 20, minor: 1, title: "Temperature [°<i>C</i>]", standoff: 27 }),
        yaxis7: valueAxis(417.3, 633.3, "x3", { range: [22.25, 83.6], dtick: 5, minor: 1, grid: false, title: "Relative Humidity [%]", standoff: 6, overlaying: "y3" }),
        xaxis4: hourAxis(888, 1487, "y4", true, "Time [UTC]", 9),
        yaxis4: valueAxis(417.3, 633.3, "x4", { range: [-0.22, 5], dtick: 2, minor: 1, title: "Wind Speed [<i>m.s</i><sup>−1</sup>]", standoff: 34 }),
        yaxis8: valueAxis(417.3, 633.3, "x4", { range: [0, 360], dtick: 60, minor: 20, grid: false, title: "Wind Direction [°]", standoff: 14, overlaying: "y4" }),
        xaxis5: hourAxis(91.5, 692, "y5", true, "Time [UTC]", 11),
        yaxis5: valueAxis(715, 931, "x5", { range: [-0.0075, 0.1575], tickvals: [0], grid: false, title: "Cumulative rainfall [<i>mm</i>]", standoff: 34 }),
        xaxis6: {
            domain: [px(888), px(1487)], anchor: "y6", range: [0, 5], dtick: 1, ticks: "outside", ticklen: 5, tickcolor: BLACK,
            tickfont: { family: FONT, size: TICK_SIZE, color: BLACK },
            minor: { ticks: "outside", ticklen: 3, tickcolor: BLACK, dtick: 0.2, tick0: 0, showgrid: false },
            showline: true, linecolor: BLACK, linewidth: 1, mirror: true,
            showgrid: true, gridcolor: GRID, griddash: "dash", zeroline: false,
            title: { text: "Diameter [<i>mm</i>]", standoff: 11, font: { family: FONT, size: LABEL_SIZE, color: BLACK } }
        },
        yaxis6: valueAxis(715, 931, "x6", { range: [0, 10], dtick: 2, minor: 1, title: "Fall speed [<i>m.s</i><sup>−1</sup>]", standoff: 26 }),
        legend: legendBox(101, 423),
        legend2: legendBox(597, 432),
        legend3: legendBox(896, 423),
        legend4: legendBox(1296, 423),
        legend5: legendBox(484, 864),
        shapes: [
            extendArrow(711, 729, 130.7, 119.3, "#800080"),
            extendArrow(711, 729, 326.7, 336, "#dcdcdc"),
            extendArrow(1507, 1525, 130.7, 119.3, "#b40426"),
            extendArrow(1507, 1525, 326.7, 336, "#3b4cc0")
        ].concat(logoShapes()),
        annotations: [
            pageText("09-07-2026", 804, 52.3, { family: FONT, size: 22.3, color: BLACK }),
            subTitle("DCR - BASTA", 391.7, 106.7),
            subTitle("DCR - BASTA", 1187.5, 106.7),
            subTitle("weather station", 391.7, 405),
            subTitle("weather station", 1187.5, 405),
            subTitle("Disdrometer and Weather station", 391.7, 703.6),
            subTitle("Relationship disdrometer fall speed / drop size", 1187.5, 703.6),
            {
                text: "<i>No fit</i>", xref: "x6", yref: "y6", x: 2, y: 4, yshift: 3,
                xanchor: "left", yanchor: "middle", showarrow: false,
                font: { family: FONT, size: 19.4, color: BLACK }
            },
            pageText("A \u2009C \u2009T \u2009R \u2009I \u2009S", 1383, 68, { family: "Lato", size: 30, color: "#0f1238" }),
            pageText("CCRES", 1380, 94, { family: "Lato", size: 17, color: "#1a1f4a" })
        ]
    };

    Plotly.newPlot("chart", traces, layout, { displayModeBar: false });
}

document.addEventListener("DOMContentLoaded", drawDashboard);
</script>
</body>
</html>
